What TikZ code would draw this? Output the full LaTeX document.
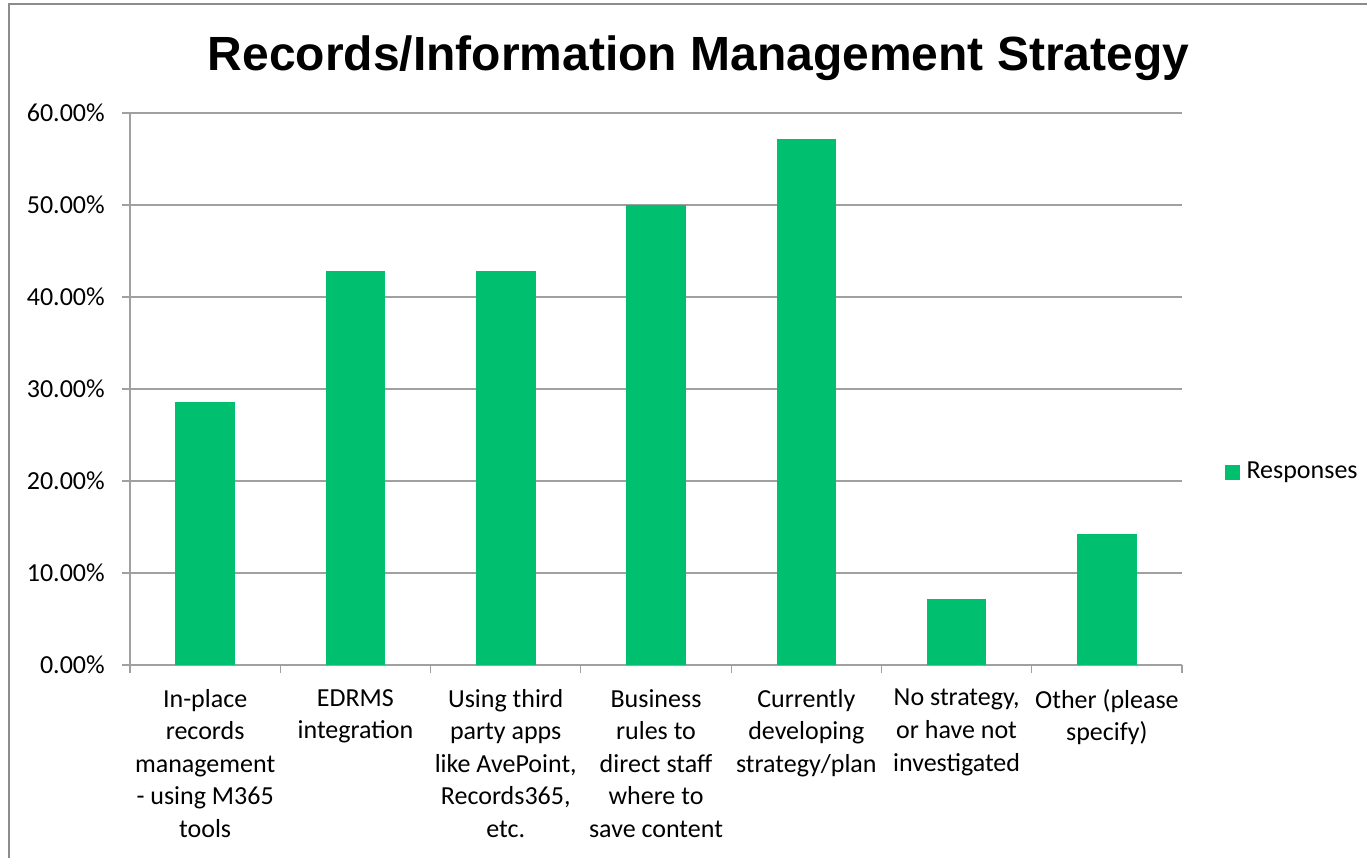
\documentclass[tikz,border=0pt]{standalone}
\usepackage{fontspec}
\setmainfont{Carlito}
\newfontfamily\titlefont{Liberation Sans}
\usetikzlibrary{positioning}
\definecolor{barfill}{RGB}{0,191,111}
\definecolor{gridgray}{RGB}{160,160,160}
\definecolor{framegray}{RGB}{140,140,140}

\begin{document}
\begin{tikzpicture}[
    x=0.75pt, y=-0.75pt,
    % text styles
    ticklab/.style = {
      anchor=east,
      inner sep=0pt,
      font=\fontsize{19.5}{24}\selectfont
    },
    catlab/.style = {
      anchor=north,
      align=center,
      inner sep=0pt,
      font=\fontsize{19.5}{24.4}\selectfont
    },
    % line and fill styles
    gridline/.style = {draw=gridgray, line width=0.9pt},
    bar/.style = {fill=barfill, draw=none}
  ]
  \useasboundingbox (0,0) rectangle (1367,858);

  % --- Frame (top and left edge only)
  \draw[framegray, line width=1pt] (9,858) -- (9,4) -- (1367,4);

  % --- Title
  \node[anchor=base, inner sep=0pt,
        font=\titlefont\bfseries\fontsize{36}{40}\selectfont] (title) at (698.5,70)
    {Records/Information Management Strategy};

  % --- Grid lines and value labels
  \foreach \v/\t in {0/0.00,1/10.00,2/20.00,3/30.00,4/40.00,5/50.00,6/60.00} {
    \draw[gridline] (122,665-\v*92) -- (1182,665-\v*92);
    \node[ticklab] (ylab\v) at (105,665-\v*92) {\t\%};
  }

  % --- Axes
  \draw[gridline] (130,113) -- (130,665);
  \foreach \k in {0,...,7}
    \draw[gridline] (130+\k*150.29,665) -- (130+\k*150.29,673);

  % --- Bars
  \foreach \i/\val in {1/28.57,2/42.86,3/42.86,4/50.00,5/57.14,6/7.14,7/14.29}
    \fill[bar] (130+\i*150.29-75.15-29.8,665-\val*9.2) rectangle
               (130+\i*150.29-75.15+29.8,664.5);

  % --- Category labels
  \foreach \i/\txt in {
      1/{In-place\\records\\management\\- using M365\\tools},
      2/{EDRMS\\integration},
      3/{Using third\\party apps\\like AvePoint,\\Records365,\\etc.},
      4/{Business\\rules to\\direct staff\\where to\\save content},
      5/{Currently\\developing\\strategy/plan},
      6/{No strategy,\\or have not\\investigated},
      7/{Other (please\\specify)}}
    \node[catlab] (cat\i) at (130+\i*150.29-75.15,689) {\txt};

  % --- Legend
  \node[bar, minimum size=11.25pt, inner sep=0pt] (legkey) at (1232.5,472) {};
  \node[right=4.5pt of legkey, inner sep=0pt,
        font=\fontsize{19.5}{24}\selectfont] (legtext) {Responses};
\end{tikzpicture}
\end{document}
